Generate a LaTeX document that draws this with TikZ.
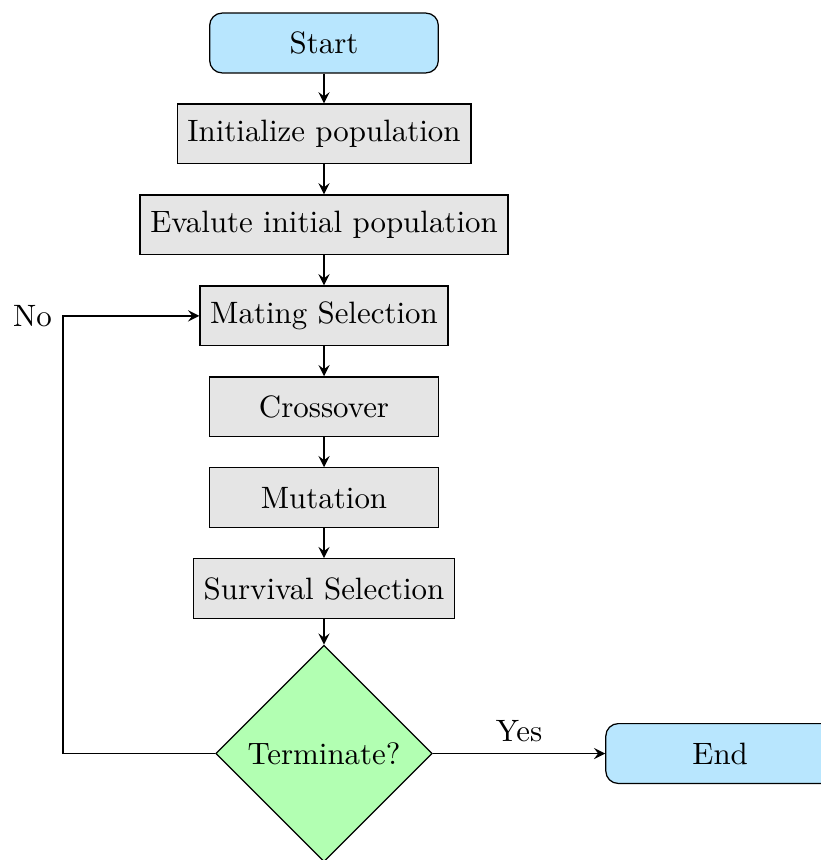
\documentclass[tikz,border=0pt]{standalone}
\usepackage{amsmath}
\usepackage{tikz}
\tikzset{>=stealth}
\usetikzlibrary{arrows,shapes.geometric,positioning}
\definecolor{startblue}{RGB}{184,230,254}

\begin{document}
\begin{tikzpicture}[node distance=0.34cm,
    startstop/.style={rectangle,rounded corners,draw,fill=startblue,minimum width=2.6cm,minimum height=0.68cm},
    process/.style={rectangle,draw,fill=gray!20,minimum width=2.6cm,minimum height=0.68cm},
    decision/.style={diamond,draw,fill=green!30,minimum width=2.46cm,minimum height=2.46cm,inner sep=0pt},
    arrow/.style={semithick,->}]
                \useasboundingbox (-3.684,0.489) rectangle (5.640,-9.289);
                \node[startstop] (start) at (0,0) {Start};
                \node[process,below=of start] (init) {Initialize population};
                \node[process,below=of init] (eval) {Evalute initial population};
                \node[process,below=of eval] (mating) {Mating Selection};
                \node[process,below=of mating] (cross) {Crossover};
                \node[process,below=of cross] (mutate) {Mutation};
                \node[process,below=of mutate] (survive) {Survival Selection};
                \node[decision,below=0.29cm of survive] (decide) {Terminate?};
                \node[startstop,right=1.96cm of decide] (stop) {End};

                \draw[arrow] (start) -- (init);
                \draw[arrow] (init) -- (eval);
                \draw[arrow] (eval) -- (mating);
                \draw[arrow] (mating) -- (cross);
                \draw[arrow] (cross) -- (mutate);
                \draw[arrow] (mutate) -- (survive);
                \draw[arrow] (survive) -- (decide);
                \draw[arrow] (decide) -- node[anchor=south] {Yes} (stop);
                \draw[arrow] (decide.west) -- ++(-1.73,0) |- node[pos=0.5,anchor=east] {No} (mating.west);
\end{tikzpicture}
\end{document}
